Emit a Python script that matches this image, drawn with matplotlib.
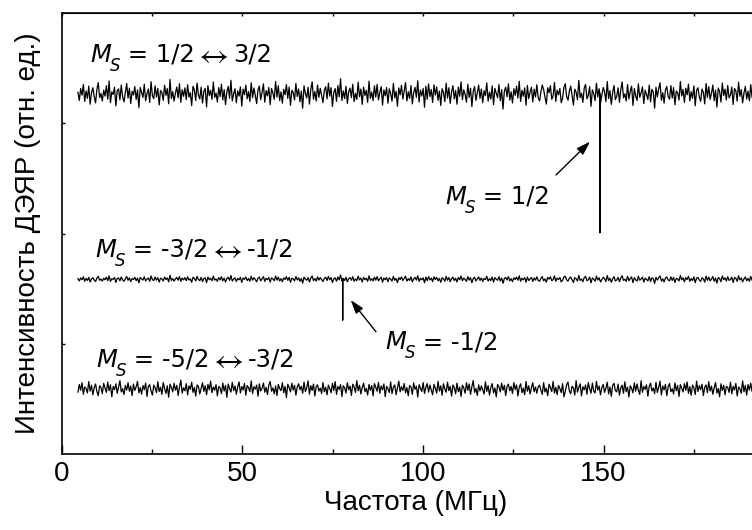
import numpy as np
import matplotlib
matplotlib.use("Agg")
import matplotlib.pyplot as plt
import matplotlib.transforms as mtransforms
from matplotlib.ticker import MultipleLocator

plt.rcParams['font.family'] = ['Liberation Sans', 'DejaVu Sans']

# frequency sweep (MHz)
freq_start, freq_stop = 4.5, 191.5

# transitions of each ENDOR trace and their baseline level (arb. units)
trace_from = ["1/2", "-3/2", "-5/2"]
trace_to = ["3/2", "-1/2", "-3/2"]
baselines = [3.265, 1.585, 0.590]

# recorded noise of each trace, in counts (770 counts per intensity unit)
counts_per_unit = 770.0
noise_top = [
    12, -45, 38, -8, 67, -52, 21, -30, 55, -71, 9, 44, -18, -62, 33, 80, -25, 4, -49, 27,
    -14, 58, -36, 91, -60, 15, -3, 47, -83, 22, 36, -41, 63, -19, -55, 8, 74, -28, 41, -66,
    19, -7, 52, -38, 29, -95, 46, 11, -24, 68, -47, 3, 35, -59, 86, -12, -33, 57, -21, 40,
    -76, 25, 13, -44, 61, -9, 38, -68, 102, -31, 17, -50, 6, 49, -27, 72, -58, 30, -16, 43,
    -39, 65, -22, 10, -81, 54, 28, -45, 77, -6, -35, 48, -63, 20, 39, -90, 59, -11, 26, -37,
    84, -24, 7, -56, 45, -18, 69, -41, 31, -73, 14, 53, -29, 96, -48, 2, 37, -61, 23, -15,
    50, -84, 34, -4, 62, -33, 18, -52, 79, -26, 42, -9, -67, 30, 55, -40, 11, 71, -57, 24,
    -13, 46, -74, 39, 8, -37, 88, -21, 57, -46, 15, -64, 33, -5, 66, -30, 49, -79, 26, 12,
    -42, 73, -17, 36, -54, 21, -99, 58, 4, -28, 47, -70, 31, 85, -36, 18, -49, 63, -23, 40,
    -8, -60, 27, 51, -34, 76, -15, 44, -87, 13, 38, -51, 60, -20, 107, -45, 22, -32, 54, -66,
    17, 41, -25, 69, -53, 6, -38, 82, -19, 35, -72, 48, -10, 26, -58, 90, -30, 14, -46, 57,
    -22, 67, -41, 10, 52, -77, 29, -12, 45, -64, 36, 3, -50, 74, -27, 19, -85, 43, -6, 61,
    -35, 24, 80, -48, 16, -31, 59, -69, 8, 47, -23, 93, -56, 28, -14, 39, -92, 55, -37, 70,
    -18, 32, -59, 64, -7, 50, -43, 21, -80, 37, 11, -53, 76, -28, 44, -65, 15, 58, -34, 25,
    -71, 49, -16, 85, -39, 30, -2, -57, 68, -24, 41, -88, 19, 53, -45, 9, 62, -30, 35, -60,
    23, -11, 78, -50, 14, -35, 57, -74, 40, 5, -26, 66, -47, 31, -105, 22, 48, -19, 71, -42,
    16, -63, 37, -9, 55, -28, 89, -52, 26, -15, 43, -78, 60, -32, 12, 47, -55, 34, -21, 65,
    -27, -48, 15, 63, 31, -22, -70, 44, 9, 58, -36, -14, 81, -52, 27, -5, 39, -61, -29, 48,
    72, -18, -43, 20, 56, -9, -77, 34, 13, -40, 95, -25, 6, -58, 41, 68, -33, -11, 52, -86,
    29, 3, -46, 75, -20, 37, -64, -8, 46, 17, -53, 88, -31, 24, -72, 11, 60, -39, -15, 43,
    -57, 30, 84, -26, 1, -49, 66, -34, 19, 55, -80, 38, -12, -45, 71, -23, 8, 50, -67, 27,
    -3, -38, 62, -55, 33, 14, -98, 47, -21, 36, 78, -44, 10, -63, 29, 53, -17, -36, 59, -28,
    45, -75, 21, 9, -42, 87, -13, 32, -59, 40, -6, 69, -48, 16, -30, 57, -82, 25, 44, -19,
    -52, 35, 12, -69, 74, -24, 51, -37, 5, 63, -46, 28, -91, 42, 18, -56, 77, -10, 34, -41,
    60, -27, -8, 49, -73, 39, 22, -50, 83, -16, 31, -62, 7, 54, -35, 20, -47, 66, -26, 13,
]
noise_mid = [
    5, -12, 9, -3, 17, -14, 6, -8, 13, -19, 2, 11, -5, -16, 8, 21, -7, 1, -13, 7,
    -4, 15, -10, 24, -15, 4, -1, 12, -22, 6, 9, -11, 16, -5, -14, 2, 19, -7, 10, -17,
    5, -2, 14, -10, 8, -25, 12, 3, -6, 18, -12, 1, 9, -15, 23, -3, -9, 15, -6, 11,
    -20, 7, 3, -12, 16, -2, 10, -18, 28, -8, 4, -13, 2, 13, -7, 19, -15, 8, -4, 11,
    -10, 17, -6, 3, -21, 14, 7, -12, 20, -2, -9, 13, -16, 5, 10, -24, 15, -3, 7, -10,
    22, -6, 2, -15, 12, -5, 18, -11, 8, -19, 4, 14, -8, 26, -13, 1, 10, -16, 6, -4,
    13, -22, 9, -1, 16, -9, 5, -14, 21, -7, 11, -2, -18, 8, 15, -11, 3, 19, -15, 6,
    -3, 12, -20, 10, 2, -10, 23, -6, 15, -12, 4, -17, 9, -1, 18, -8, 13, -21, 7, 3,
    -11, 19, -5, 10, -14, 6, -27, 15, 1, -7, 12, -19, 8, 23, -10, 5, -13, 17, -6, 11,
    -2, -16, 7, 14, -9, 20, -4, 12, -23, 3, 10, -14, 16, -5, 30, -12, 6, -9, 14, -18,
    5, 11, -7, 18, -14, 2, -10, 22, -5, 9, -19, 13, -3, 7, -15, 24, -8, 4, -12, 15,
    -6, 18, -11, 3, 14, -20, 8, -3, 12, -17, 10, 1, -13, 20, -7, 5, -23, 11, -2, 16,
    -9, 6, 21, -13, 4, -8, 16, -18, 2, 13, -6, 25, -15, 7, -4, 10, -24, 15, -10, 19,
    -5, 9, -16, 17, -2, 13, -11, 6, -21, 10, 3, -14, 20, -7, 12, -17, 4, 15, -9, 7,
    -19, 13, -4, 23, -10, 8, -1, -15, 18, -6, 11, -24, 5, 14, -12, 2, 17, -8, 9, -16,
    6, -3, 21, -13, 4, -9, 15, -20, 11, 1, -7, 18, -12, 8, -28, 6, 13, -5, 19, -11,
    4, -17, 10, -2, 15, -7, 24, -14, 7, -4, 12, -21, 16, -9, 3, 13, -15, 9, -6, 17,
    -8, -15, 6, 19, -11, 3, -20, 13, 1, 17, -9, -4, 24, -14, 8, -2, 12, -18, -7, 15,
    21, -5, -13, 7, 16, -3, -22, 10, 4, -12, 27, -8, 2, -17, 12, 20, -10, -4, 15, -25,
    9, 1, -14, 22, -6, 11, -19, -2, 14, 5, -16, 26, -9, 7, -21, 3, 18, -12, -5, 13,
    -17, 9, 25, -8, 0, -15, 20, -10, 6, 16, -24, 11, -4, -13, 21, -7, 2, 15, -20, 8,
    -1, -11, 18, -16, 10, 4, -29, 14, -6, 11, 23, -13, 3, -19, 9, 16, -5, -11, 17, -8,
    13, -22, 6, 3, -12, 26, -4, 10, -18, 12, -2, 20, -14, 5, -9, 17, -24, 8, 13, -6,
    -15, 10, 4, -20, 22, -7, 15, -11, 1, 19, -14, 8, -27, 12, 5, -17, 23, -3, 10, -12,
    18, -8, -2, 14, -22, 12, 7, -15, 24, -5, 9, -18, 2, 16, -10, 6, -14, 20, -8, 4,
]
noise_bot = [
    -22, 31, -9, 44, -37, 14, 3, -28, 52, -15, 26, -41, 8, 35, -19, -47, 22, 11, -33, 39,
    6, -24, 48, -12, 29, -55, 17, -4, 36, -30, 13, 58, -21, 2, -39, 25, -8, 43, -16, 20,
    -46, 34, -11, 16, 53, -27, 9, -36, 24, -5, 41, -52, 19, 30, -14, -43, 27, 7, -25, 50,
    -18, 12, -38, 45, 4, -31, 22, -57, 33, 10, -20, 39, -9, 26, -45, 15, 62, -29, 8, -13,
    37, -42, 21, -3, 47, -24, 11, -50, 28, 16, -35, 5, 43, -17, 23, -40, 32, -6, 55, -26,
    14, -9, 30, -48, 18, 6, -33, 41, -15, 25, -59, 35, 2, -22, 46, -11, 20, -37, 13, 49,
    -28, 17, -7, 38, -44, 24, 9, -19, 56, -32, 15, -2, 27, -51, 36, -14, 4, 42, -23, 11,
    -39, 28, 52, -16, 7, -34, 21, -46, 31, 3, -12, 44, -27, 18, -60, 33, 10, -21, 40, -8,
    25, -43, 14, 36, -5, 19, -30, 48, -18, 9, 57, -36, 23, -10, 34, -49, 16, 29, -15, 6,
    -32, 45, -20, 12, -41, 27, 3, -26, 39, -11, 51, -38, 17, -4, 30, -53, 22, 8, -29, 43,
    -7, 20, -45, 33, 15, -24, 58, -13, 26, -35, 10, 40, -19, 4, -42, 31, -9, 24, -48, 37,
    12, -16, 46, -30, 21, -6, 35, -54, 18, 2, -25, 49, -33, 13, 28, -40, 7, 54, -20, 16,
    -11, 38, -27, 9, -47, 24, 14, -37, 42, -3, 19, -56, 30, 6, -18, 45, -31, 11, 37, -22,
    27, -8, -41, 32, 5, -29, 53, -15, 22, -44, 36, 1, -23, 47, -12, 18, -50, 28, 9, -34,
    41, -19, 13, -52, 26, 8, -30, 44, -10, 35, -38, 16, 59, -24, 3, -45, 29, -14, 21, -6,
    -36, 50, -17, 23, -43, 11, 37, -28, 7, -55, 31, 15, -21, 40, -9, 25, -46, 19, 34, -13,
    18, -32, 45, -4, 28, -49, 12, 36, -26, 6, -40, 52, -16, 22, -35, 9, 43, -20, 14, -30,
    15, 27, -10, -38, 44, -21, 6, -47, 33, 9, -18, 52, -29, 12, -40, 24, 3, -26, 37, -55,
    -17, 30, 48, -13, -34, 19, 7, -43, 58, -22, 11, 36, -48, 16, -6, 28, -37, 45, 2, -30,
    41, -15, -28, 53, -8, 20, -41, 10, 31, -24, 5, 47, -35, 14, -51, 25, 39, -12, -20, 34,
    -44, 8, 26, -31, 50, -19, 13, -56, 22, 4, -27, 43, -16, 35, -9, -38, 57, -23, 17, -3,
    29, -50, 18, 40, -14, 7, -33, 46, -25, 11, 54, -42, 21, -6, 32, -47, 15, 38, -19, 1,
    -35, 42, -13, 24, -52, 30, 6, -21, 37, -10, 49, -31, 16, -44, 27, 9, -39, 55, -18, 23,
    -5, 33, -46, 12, 28, -26, 51, -15, 20, -37, 8, 45, -29, 3, -54, 36, -11, 26, -41, 19,
    10, -24, 47, -34, 18, -7, 39, -49, 14, 2, -30, 56, -20, 25, -43, 31, -8, 40, -17, -2,
]

# ENDOR lines: trace index, frequency (MHz), level of the line tip, spin projection
line_trace = [0, 1]
line_freq = [149.0, 77.8]
line_tip = [2.007, 1.215]
line_ms = ["1/2", "-1/2"]

W, H = 752, 530
fig = plt.figure(figsize=(W / 100, H / 100), dpi=100)
ax = fig.add_axes([61.7 / W, 76 / H, (769.7 - 61.7) / W, 441 / H])

traces = []
for base, noise in zip(baselines, [noise_top, noise_mid, noise_bot]):
    f = np.linspace(freq_start, freq_stop, len(noise))
    traces.append([f, base + np.asarray(noise) / counts_per_unit])

for k, fr, tip in zip(line_trace, line_freq, line_tip):
    f, y = traces[k]
    i = np.searchsorted(f, fr)
    traces[k] = [np.insert(f, i, [fr, fr, fr]),
                 np.insert(y, i, [baselines[k], tip, baselines[k]])]

for f, y in traces:
    ax.plot(f, y, color='black', lw=0.9)

ax.set_xlim(0, 196)
ax.set_ylim(0, 4)

# ---- captions: italic M with italic subscript S, then the value(s) ----
renderer = fig.canvas.get_renderer()
ident = mtransforms.IdentityTransform()
LFONT = ['DejaVu Sans']
FS = 17.5


def spin_caption(x, y, first, second=None):
    px, py = ax.transData.transform((x, y))
    m = ax.text(px, py, 'M', transform=ident, fontsize=FS, fontstyle='italic',
                family=LFONT, va='baseline', ha='left')
    bb = m.get_window_extent(renderer)
    s = ax.text(bb.x1 - 1, py - 9, 'S', transform=ident, fontsize=FS * 0.68,
                fontstyle='italic', family=LFONT, va='baseline', ha='left')
    bb = s.get_window_extent(renderer)
    t = ax.text(bb.x1, py, ' = ' + first, transform=ident, fontsize=FS,
                family=LFONT, va='baseline', ha='left')
    if second is None:
        return
    bb = t.get_window_extent(renderer)
    a = ax.text(bb.x1 + 5, py - 3, '↔', transform=ident, fontsize=22,
                family=['STIXGeneral', 'DejaVu Sans'], va='baseline', ha='left')
    bb = a.get_window_extent(renderer)
    ax.text(bb.x1 + 5, py, second, transform=ident, fontsize=FS,
            family=LFONT, va='baseline', ha='left')


label_pos = [(7.83, 3.556), (9.22, 1.790), (9.5, 0.792)]
for (tx, ty), a, b in zip(label_pos, trace_from, trace_to):
    spin_caption(tx, ty, a, b)

ann_text = [(106.1, 2.268), (89.5, 0.950)]
ann_tail = [(136.85, 2.531), (87.0, 1.109)]
ann_head = [(146.26, 2.833), (80.0, 1.397)]
for (tx, ty), tail, head, ms in zip(ann_text, ann_tail, ann_head, line_ms):
    spin_caption(tx, ty, ms)
    ax.annotate('', xy=head, xytext=tail,
                arrowprops=dict(arrowstyle='-|>,head_length=0.55,head_width=0.18',
                                color='black', lw=1.0, mutation_scale=15,
                                shrinkA=0, shrinkB=0))

for sp in ax.spines.values():
    sp.set_linewidth(1.2)

ax.xaxis.set_major_locator(MultipleLocator(50))
ax.xaxis.set_minor_locator(MultipleLocator(25))
ax.tick_params(axis='x', which='major', direction='in', length=6.5, width=1.0,
               labelsize=20, pad=5, top=False)
ax.tick_params(axis='x', which='minor', direction='in', length=3.4, width=1.0, top=False)
ax.set_yticks([1, 2, 3])
ax.tick_params(axis='y', which='major', direction='in', length=2.5, width=1.0,
               labelleft=False, right=False)

top = ax.secondary_xaxis('top')
top.xaxis.set_major_locator(MultipleLocator(25))
top.tick_params(axis='x', direction='in', length=2.0, width=1.0, labeltop=False)

ax.set_xlabel('Частота (МГц)', fontsize=20, labelpad=2)
ax.set_ylabel('Интенсивность ДЭЯР (отн. ед.)', fontsize=20, labelpad=15)

fig.savefig('out.png', dpi=100)
